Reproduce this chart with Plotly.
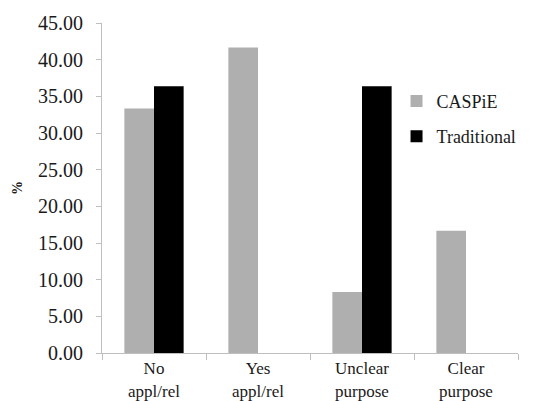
import plotly.graph_objects as go

categories = ["No<br>appl/rel", "Yes<br>appl/rel", "Unclear<br>purpose", "Clear<br>purpose"]
caspie = [33.33, 41.67, 8.33, 16.67]
traditional = [36.36, 0.0, 36.36, 0.0]
y_ticks = [0, 5, 10, 15, 20, 25, 30, 35, 40, 45]

AXIS_GRAY = "#bfbfbf"
FONT = "Liberation Serif"
TEXT = "#1a1a1a"

fig = go.Figure()
fig.add_trace(go.Bar(
    x=categories, y=caspie, name="CASPiE", legendgroup="a",
    marker=dict(color="#afafaf", line=dict(width=0)),
))
fig.add_trace(go.Bar(
    x=categories, y=traditional, name="Traditional", legendgroup="b",
    marker=dict(color="#000000", line=dict(width=0)),
))

fig.update_layout(
    width=538, height=401,
    margin=dict(l=102, r=20, t=23, b=48),
    paper_bgcolor="white", plot_bgcolor="white",
    barmode="group", bargap=0.43, bargroupgap=0,
    font=dict(family=FONT, color=TEXT),
    showlegend=True,
    legend=dict(
        x=0.708, y=0.819, xanchor="left", yanchor="top",
        font=dict(size=18, family=FONT, color=TEXT),
        traceorder="grouped", tracegroupgap=9,
        bgcolor="rgba(0,0,0,0)", itemwidth=30,
    ),
    xaxis=dict(
        type="category", tickson="boundaries",
        showline=True, linecolor=AXIS_GRAY, linewidth=1,
        ticks="outside", ticklen=6, tickcolor=AXIS_GRAY,
        showgrid=False, tickfont=dict(size=17, family=FONT, color=TEXT),
        automargin=False,
    ),
    yaxis=dict(
        range=[0, 45], tickvals=y_ticks, tickformat=".2f",
        showline=True, linecolor=AXIS_GRAY, linewidth=1,
        ticks="outside", ticklen=5, tickcolor=AXIS_GRAY,
        ticklabelstandoff=9,
        showgrid=False, zeroline=False,
        tickfont=dict(size=20, family=FONT, color=TEXT),
        title=dict(text="<b>%</b>", font=dict(size=14, family=FONT, color=TEXT), standoff=12),
        automargin=False,
    ),
)

fig.write_html("out.html")
